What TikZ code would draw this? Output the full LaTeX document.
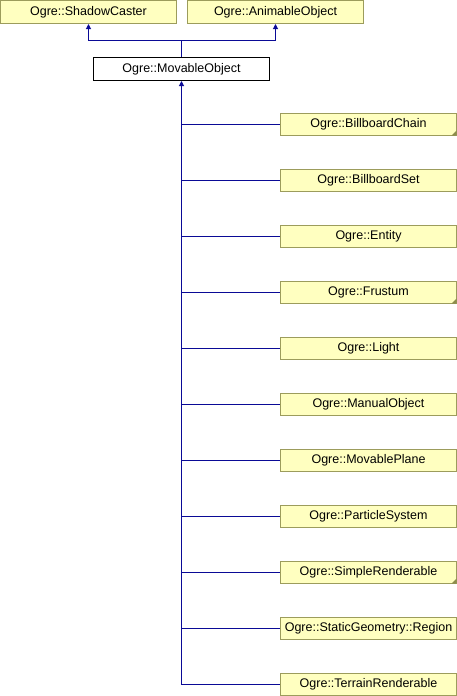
\documentclass[tikz,border=0pt]{standalone}
\usepackage{fontspec}
\setmainfont{Liberation Sans}
\usetikzlibrary{arrows.meta,calc}
\definecolor{boxfill}{HTML}{FFFFC0}
\definecolor{boxline}{HTML}{9C9C5C}
\definecolor{lnkcol}{HTML}{0A0A96}
\definecolor{fold}{HTML}{8C8C4C}
\begin{document}
\begin{tikzpicture}[x=1pt,y=-1pt,
  cls/.style={draw=boxline,fill=boxfill,line width=1pt,minimum width=176pt,minimum height=23pt,inner sep=0pt,font=\fontsize{12.5}{14}\selectfont},
  sub/.style={cls,minimum height=22pt},
  cur/.style={draw=black,fill=white,line width=1pt,minimum width=176pt,minimum height=23pt,inner sep=0pt,font=\fontsize{12.5}{14}\selectfont},
  link/.style={draw=lnkcol,line width=1pt},
  inh/.style={link,-{Triangle[length=5pt,width=5pt]}}]
\useasboundingbox (0,0) rectangle (457,696);
\node[cls] (sc) at (88.5,12) {Ogre::ShadowCaster};
\node[cls] (ao) at (275.5,12) {Ogre::AnimableObject};
\node[cur] (mo) at (181.5,69) {Ogre::MovableObject};
\coordinate (bar) at (181.5,40.5);
\draw[link] (mo.north) -- (bar);
\draw[inh] (bar) -| (sc.south);
\draw[inh] (bar) -| (ao.south);
\foreach \n/\t/\y in {c1/BillboardChain/124.5, c2/BillboardSet/180.5, c3/Entity/236.5, c4/Frustum/292.5, c5/Light/348.5, c6/ManualObject/404.5, c7/MovablePlane/460.5, c8/ParticleSystem/516.5, c9/SimpleRenderable/572.5, c10/StaticGeometry::Region/628.5, c11/TerrainRenderable/684.5}{
  \node[sub] (\n) at (368.5,\y) {Ogre::\t};
  \draw[link] (mo.south |- \n.west) -- (\n.west);
}
\foreach \n in {c1,c4,c9}{
  \fill[fold] ($(\n.south east)+(-0.5,-0.5)$) -- ++(-5,0) -- ++(5,-5) -- cycle;
}
\draw[inh] (mo.south |- c11.west) -- (mo.south);
\end{tikzpicture}
\end{document}
